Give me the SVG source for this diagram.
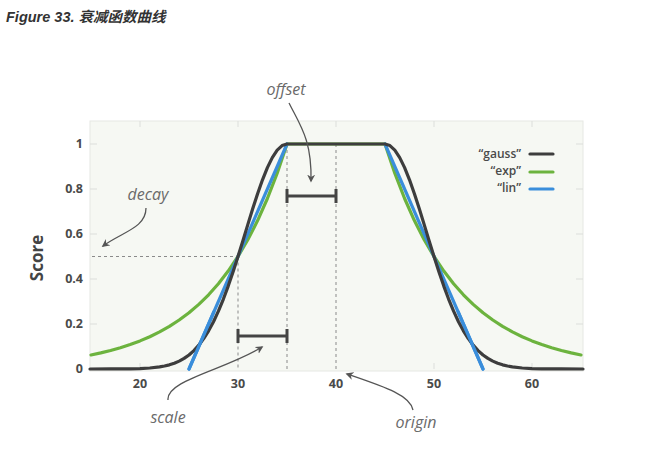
<svg xmlns="http://www.w3.org/2000/svg" width="648" height="453" viewBox="0 0 648 453">
<defs>
<style>
.title{font-family:"Liberation Sans","Noto Sans CJK SC",sans-serif;font-weight:bold;font-style:italic;font-size:14.5px;fill:#333}
.tick{font-family:"Open Sans","Liberation Sans",sans-serif;font-weight:700;font-size:12.5px;fill:#4a4a4a}
.axis{font-family:"Open Sans","Liberation Sans",sans-serif;font-weight:700;font-size:17px;fill:#444}
.ann{font-family:"Open Sans","Liberation Sans",sans-serif;font-style:italic;font-size:16px;fill:#6a6a6a}
.leg{font-family:"Open Sans","Liberation Sans",sans-serif;font-weight:600;font-size:12px;fill:#4a4a4a}
.grid{stroke:#dcdedb;stroke-width:1}
.dash{stroke:#8a8a8a;stroke-width:1;stroke-dasharray:3 3;fill:none}
.bar{stroke:#444;stroke-width:3;fill:none}
.arr{stroke:#555;stroke-width:1.3;fill:none;marker-end:url(#ah)}
.curve{fill:none;stroke-width:3.2;stroke-linejoin:round;stroke-linecap:round}
.gauss{stroke:#3d3d3d}
.exp{stroke:#6cb33e}
.lin{stroke:#3a8edb}
</style>
<marker id="ah" viewBox="0 0 10 10" refX="8" refY="5" markerWidth="8" markerHeight="8" orient="auto" markerUnits="userSpaceOnUse">
<path d="M0,0 L10,5 L0,10 L3,5 z" fill="#555"/>
</marker>
</defs>
<rect width="648" height="453" fill="#fff"/>
<text class="title" x="6" y="22">Figure 33. 衰减函数曲线</text>

<g id="plot">
<rect x="90" y="121" width="493" height="250" fill="#f6f8f3" stroke="#e6e8e3" stroke-width="1"/>
<g class="grid">
<line x1="140" y1="121" x2="140" y2="127"/><line x1="238" y1="121" x2="238" y2="127"/><line x1="336" y1="121" x2="336" y2="127"/><line x1="434" y1="121" x2="434" y2="127"/><line x1="532" y1="121" x2="532" y2="127"/>
<line x1="140" y1="363" x2="140" y2="369"/><line x1="434" y1="363" x2="434" y2="369"/><line x1="532" y1="363" x2="532" y2="369"/>
<line x1="90" y1="144" x2="97" y2="144"/><line x1="90" y1="189" x2="97" y2="189"/><line x1="90" y1="234" x2="97" y2="234"/><line x1="90" y1="279" x2="97" y2="279"/><line x1="90" y1="324" x2="97" y2="324"/>
<line x1="576" y1="144" x2="583" y2="144"/><line x1="576" y1="189" x2="583" y2="189"/><line x1="576" y1="234" x2="583" y2="234"/><line x1="576" y1="279" x2="583" y2="279"/><line x1="576" y1="324" x2="583" y2="324"/>
</g>
</g>

<g id="axis-labels">
<text class="tick" x="83" y="148" text-anchor="end">1</text>
<text class="tick" x="83" y="193" text-anchor="end">0.8</text>
<text class="tick" x="83" y="238" text-anchor="end">0.6</text>
<text class="tick" x="83" y="283" text-anchor="end">0.4</text>
<text class="tick" x="83" y="328" text-anchor="end">0.2</text>
<text class="tick" x="83" y="373" text-anchor="end">0</text>
<text class="tick" x="140" y="388" text-anchor="middle">20</text>
<text class="tick" x="238" y="388" text-anchor="middle">30</text>
<text class="tick" x="336" y="388" text-anchor="middle">40</text>
<text class="tick" x="434" y="388" text-anchor="middle">50</text>
<text class="tick" x="532" y="388" text-anchor="middle">60</text>
<text class="axis" x="0" y="0" transform="translate(43,258) rotate(-90)" text-anchor="middle">Score</text>
</g>

<g id="guides">
<path class="dash" d="M92,256.5 H238 M238,256.5 V369 M287,144 V369 M336,144 V369"/>
</g>

<g id="curves">
<polyline id="exp" class="curve exp" points="91,354.94 100.8,352.85 110.6,350.44 120.4,347.69 130.2,344.52 140,340.88 149.8,336.69 159.6,331.89 169.4,326.37 179.2,320.03 189,312.75 198.8,304.39 208.6,294.78 218.4,283.74 228.2,271.06 238,256.5 247.8,239.77 257.6,220.56 267.4,198.48 277.2,173.13 287,144 385,144 394.8,173.13 404.6,198.48 414.4,220.56 424.2,239.77 434,256.5 443.8,271.06 453.6,283.74 463.4,294.78 473.2,304.39 483,312.75 492.8,320.03 502.6,326.37 512.4,331.89 522.2,336.69 532,340.88 541.8,344.52 551.6,347.69 561.4,350.44 571.2,352.85 581,354.94"/>
<polyline id="lin-left" class="curve lin" points="189,369 287,144"/>
<polyline id="lin-right" class="curve lin" points="385,144 483,369"/>
<polyline id="gauss" class="curve gauss" points="90,369 110.6,368.97 120.4,368.93 130.2,368.81 140,368.56 149.8,368.02 159.6,366.92 164.5,366.04 169.4,364.85 174.3,363.25 179.2,361.14 184.1,358.42 189,354.94 193.9,350.57 198.8,345.18 203.7,338.65 208.6,330.84 213.5,321.7 218.4,311.17 223.3,299.27 228.2,286.07 233.1,271.74 238,256.5 242.9,240.66 247.8,224.61 252.7,208.8 257.6,193.69 262.5,179.8 267.4,167.62 272.3,157.61 277.2,150.15 282.1,145.55 287,144 385,144 389.9,145.55 394.8,150.15 399.7,157.61 404.6,167.62 409.5,179.8 414.4,193.69 419.3,208.8 424.2,224.61 429.1,240.66 434,256.5 438.9,271.74 443.8,286.07 448.7,299.27 453.6,311.17 458.5,321.7 463.4,330.84 468.3,338.65 473.2,345.18 478.1,350.57 483,354.94 487.9,358.42 492.8,361.14 497.7,363.25 502.6,364.85 507.5,366.04 512.4,366.92 522.2,368.02 532,368.56 541.8,368.81 551.6,368.93 561.4,368.97 583,369"/>
<polyline id="lin-bottom-left" class="curve lin" points="213.8,312 189,369"/>
<polyline id="lin-bottom-right" class="curve lin" points="458.2,312 483,369"/>
</g>

<g id="bars">
<path class="bar" d="M238,336 H287 M238,329 V343 M287,329 V343"/>
<path class="bar" d="M287,196 H336 M287,189 V203 M336,189 V203"/>
</g>

<g id="legend">
<text class="leg" x="521" y="158" text-anchor="end">“gauss”</text>
<text class="leg" x="521" y="175" text-anchor="end">“exp”</text>
<text class="leg" x="521" y="192" text-anchor="end">“lin”</text>
<line class="curve gauss" x1="530" y1="154" x2="553" y2="154" stroke-width="3.5"/>
<line class="curve exp" x1="530" y1="172" x2="553" y2="172" stroke-width="3.5"/>
<line class="curve lin" x1="530" y1="189" x2="553" y2="189" stroke-width="3.5"/>
</g>

<g id="connectors">
<path class="arr" d="M289,103 C300,125 312,140 311,181"/>
<path class="arr" d="M146,208 C146,228 122,232 103,246"/>
<path class="arr" d="M168,400 C166,380 225,370 262,347"/>
<path class="arr" d="M413,410 C410,395 385,387 347,374"/>
</g>

<g id="annotations">
<text class="ann" x="286" y="95" text-anchor="middle">offset</text>
<text class="ann" x="148" y="200" text-anchor="middle">decay</text>
<text class="ann" x="168" y="423" text-anchor="middle">scale</text>
<text class="ann" x="416" y="428" text-anchor="middle">origin</text>
</g>
</svg>
